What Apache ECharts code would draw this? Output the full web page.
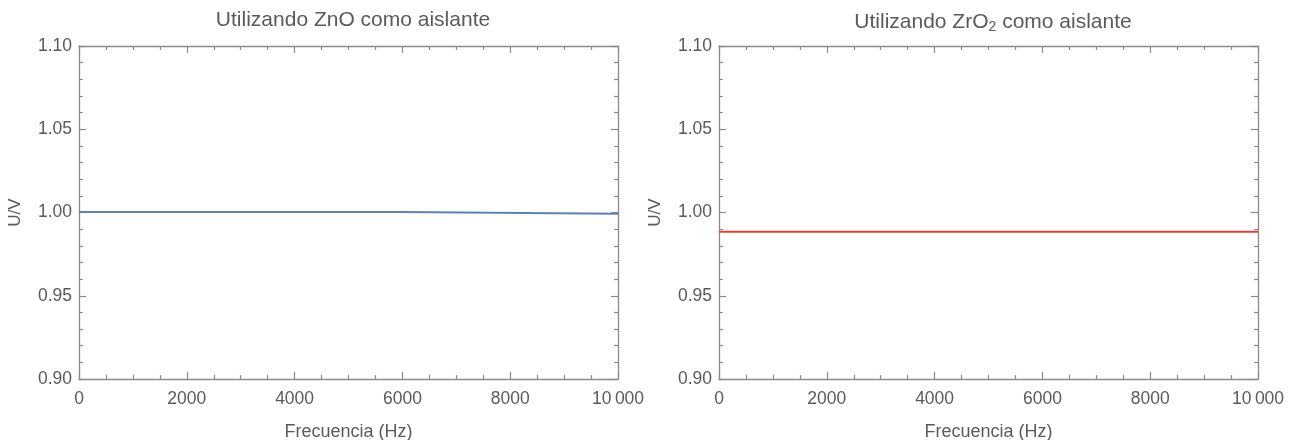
<!DOCTYPE html>
<html>
<head>
<meta charset="utf-8">
<script src="https://cdn.jsdelivr.net/npm/echarts@6/dist/echarts.min.js"></script>
<style>
  html, body { margin: 0; padding: 0; background: #fff; }
  #chart { width: 1299px; height: 440px; }
</style>
</head>
<body>
<div id="chart"></div>
<script>
// Voltage ratio U/V versus frequency for two insulating layers
const freqZnO = [0, 5950, 10000];
const uZnO = [1.0003, 0.9993, 0.9993];
const freqZrO2 = [0, 10000];
const uZrO2 = [0.9885, 0.9885];

const titles = ['Utilizando ZnO como aislante', 'Utilizando ZrO{sub|2} como aislante'];
const xName = 'Frecuencia (Hz)';
const yName = 'U/V';
const xTicks = { min: 0, max: 10000, interval: 2000 };
const yTicks = { min: 0.90, max: 1.10, interval: 0.05 };

const FONT = '"Liberation Sans", Arial, Helvetica, sans-serif';
const TEXT = '#5a5a5a';
const FRAME = '#8a8a8a';

const chart = echarts.init(document.getElementById('chart'), null, { renderer: 'canvas' });

const grids = [
  { left: 79, right: 681, top: 46, bottom: 61, outerBoundsMode: 'none', containLabel: false },
  { left: 719, right: 41, top: 46, bottom: 61, outerBoundsMode: 'none', containLabel: false }
];

function fmtX(v) {
  if (v >= 10000) return String(v).replace(/(\d)(?=(\d{3})+$)/g, '$1\u2009');
  return String(v);
}

const xAxes = [], yAxes = [];
grids.forEach((g, i) => {
  const common = {
    type: 'value',
    gridIndex: i,
    min: xTicks.min, max: xTicks.max, interval: xTicks.interval,
    axisLine: { show: true, onZero: false, lineStyle: { color: FRAME, width: 1.3 } },
    axisTick: { show: true, inside: true, length: 7, lineStyle: { color: FRAME, width: 1.2 } },
    minorTick: { show: true, splitNumber: 4, length: 4, lineStyle: { color: FRAME, width: 1.2 } },
    splitLine: { show: false }
  };
  xAxes.push(Object.assign({}, common, {
    position: 'bottom',
    name: xName, nameLocation: 'middle', nameGap: 44,
    nameTextStyle: { color: TEXT, fontSize: 18, fontFamily: FONT },
    axisLabel: { color: TEXT, fontSize: 17.5, fontFamily: FONT, margin: 11, formatter: fmtX, showMaxLabel: true }
  }));
  xAxes.push(Object.assign({}, common, { position: 'top', axisLabel: { show: false } }));

  const ycommon = {
    type: 'value',
    gridIndex: i,
    min: yTicks.min, max: yTicks.max, interval: yTicks.interval,
    axisLine: { show: true, onZero: false, lineStyle: { color: FRAME, width: 1.3 } },
    axisTick: { show: true, inside: true, length: 7, lineStyle: { color: FRAME, width: 1.2 } },
    minorTick: { show: true, splitNumber: 5, length: 4, lineStyle: { color: FRAME, width: 1.2 } },
    splitLine: { show: false }
  };
  yAxes.push(Object.assign({}, ycommon, {
    position: 'left',
    name: yName, nameLocation: 'middle', nameGap: 55, nameRotate: 90,
    nameTextStyle: { color: TEXT, fontSize: 17, fontFamily: FONT },
    axisLabel: { color: TEXT, fontSize: 17.5, fontFamily: FONT, margin: 7,
      formatter: v => v.toFixed(2) }
  }));
  yAxes.push(Object.assign({}, ycommon, { position: 'right', axisLabel: { show: false } }));
});

const option = {
  backgroundColor: '#ffffff',
  animation: false,
  title: titles.map((t, i) => ({
    text: t,
    left: i === 0 ? 348 : 988,
    top: 5,
    textAlign: 'center',
    textStyle: {
      color: TEXT, fontSize: 21, fontWeight: 'normal', fontFamily: FONT,
      rich: {
        sub: { fontSize: 14, color: TEXT, fontFamily: FONT, padding: [10, 0, 0, 0] }
      }
    }
  })),
  grid: grids,
  xAxis: xAxes,
  yAxis: yAxes,
  series: [
    {
      type: 'line', xAxisIndex: 0, yAxisIndex: 0, step: 'end',
      data: freqZnO.map((f, k) => [f, uZnO[k]]),
      showSymbol: false, lineStyle: { color: '#5e81b5', width: 2 }
    },
    {
      type: 'line', xAxisIndex: 2, yAxisIndex: 2,
      data: freqZrO2.map((f, k) => [f, uZrO2[k]]),
      showSymbol: false, lineStyle: { color: '#e2402f', width: 2 }
    }
  ]
};

chart.setOption(option);
</script>
</body>
</html>
